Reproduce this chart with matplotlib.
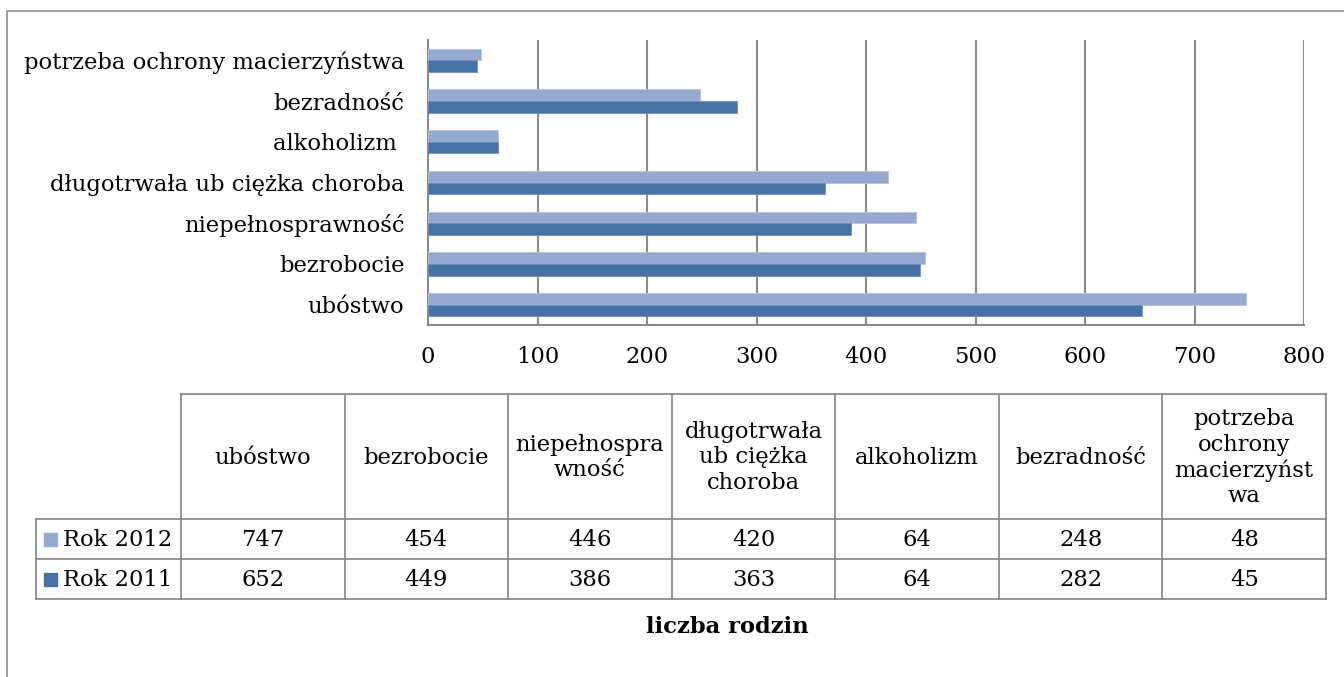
import matplotlib
matplotlib.use("Agg")
import matplotlib.pyplot as plt
import numpy as np
from matplotlib.patches import Rectangle

# ---- data ----
categories = ["ubóstwo", "bezrobocie", "niepełnosprawność",
              "długotrwała ub ciężka choroba", "alkoholizm ",
              "bezradność", "potrzeba ochrony macierzyństwa"]
table_headers = ["ubóstwo", "bezrobocie", "niepełnospra\nwność",
                 "długotrwała\nub ciężka\nchoroba", "alkoholizm",
                 "bezradność", "potrzeba\nochrony\nmacierzyńst\nwa"]
series_names = ["Rok 2012", "Rok 2011"]
rok_2012 = [747, 454, 446, 420, 64, 248, 48]
rok_2011 = [652, 449, 386, 363, 64, 282, 45]
x_ticks = [0, 100, 200, 300, 400, 500, 600, 700, 800]
axis_title = "liczba rodzin"

c2012 = "#95A9D1"
c2011 = "#4672A8"
grid_c = "#8A8A8A"
FONT = ["DejaVu Serif"]
FS = 16.3

W, H = 1344, 677
fig = plt.figure(figsize=(W / 100, H / 100), dpi=100)
plt.rcParams["font.family"] = FONT

# overlay axes in pixel coords
ov = fig.add_axes([0, 0, 1, 1], zorder=0)
ov.set_xlim(0, W)
ov.set_ylim(H, 0)
ov.axis("off")
ov.patch.set_alpha(0)

# outer border
ov.plot([7, 7, W + 5], [H + 5, 11, 11], color="#8C8C8C", lw=1.2, solid_capstyle="butt")

# ---- bar chart ----
L, R, T, B = 428, 1304, 40, 325
ax = fig.add_axes([L / W, 1 - B / H, (R - L) / W, (B - T) / H], zorder=1)
ax.patch.set_alpha(0)
y = np.arange(len(categories))
h = 0.285
ax.barh(y + h / 2, rok_2012, height=h, color=c2012, edgecolor="#B4C3E0", lw=0.6, zorder=3)
ax.barh(y - h / 2, rok_2011, height=h, color=c2011, edgecolor="#6F8FBD", lw=0.6, zorder=3)
ax.set_xlim(0, 800)
ax.set_ylim(-0.5, len(categories) - 0.5)
ax.set_xticks(x_ticks)
ax.set_xticklabels([str(v) for v in x_ticks], fontsize=FS, family=FONT)
ax.set_yticks(y)
ax.set_yticklabels(categories, fontsize=FS, family=FONT)
ax.tick_params(axis="x", length=0, pad=15)
ax.tick_params(axis="y", length=0, pad=17)
ax.grid(axis="x", color=grid_c, lw=1.5, zorder=1)
ax.spines["top"].set_visible(False)
ax.spines["right"].set_visible(False)
for s in ["left", "bottom"]:
    ax.spines[s].set_color(grid_c)
    ax.spines[s].set_linewidth(1.5)

# ---- data table ----
col_x = np.linspace(181, 1326, len(categories) + 1)
row_y = [394, 519, 559, 599]
leg_l = 36
tc = "#8C8C8C"
lw = 1.3
ov.plot([col_x[0], col_x[-1]], [row_y[0]] * 2, color=tc, lw=lw)
for yy in row_y[1:]:
    ov.plot([leg_l, col_x[-1]], [yy] * 2, color=tc, lw=lw)
for xx in col_x:
    ov.plot([xx, xx], [row_y[0], row_y[-1]], color=tc, lw=lw)
ov.plot([leg_l, leg_l], [row_y[1], row_y[-1]], color=tc, lw=lw)

for i, hdr in enumerate(table_headers):
    cx = (col_x[i] + col_x[i + 1]) / 2
    ov.text(cx, (row_y[0] + row_y[1]) / 2 + 1, hdr, ha="center", va="center",
            fontsize=FS, family=FONT, linespacing=1.2)
    for r, vals in enumerate([rok_2012, rok_2011]):
        ov.text(cx, (row_y[r + 1] + row_y[r + 2]) / 2 + 1, str(vals[i]),
                ha="center", va="center", fontsize=FS, family=FONT)

for r, (name, col) in enumerate(zip(series_names, [c2012, c2011])):
    cy = (row_y[r + 1] + row_y[r + 2]) / 2
    ov.add_patch(Rectangle((44, cy - 6), 13, 13, color=col))
    ov.text(63, cy + 1, name, ha="left", va="center", fontsize=FS, family=FONT)

ov.text(727, 627, axis_title, ha="center", va="center", fontsize=FS,
        family=FONT, fontweight="bold")

fig.savefig("out.png", dpi=100)
